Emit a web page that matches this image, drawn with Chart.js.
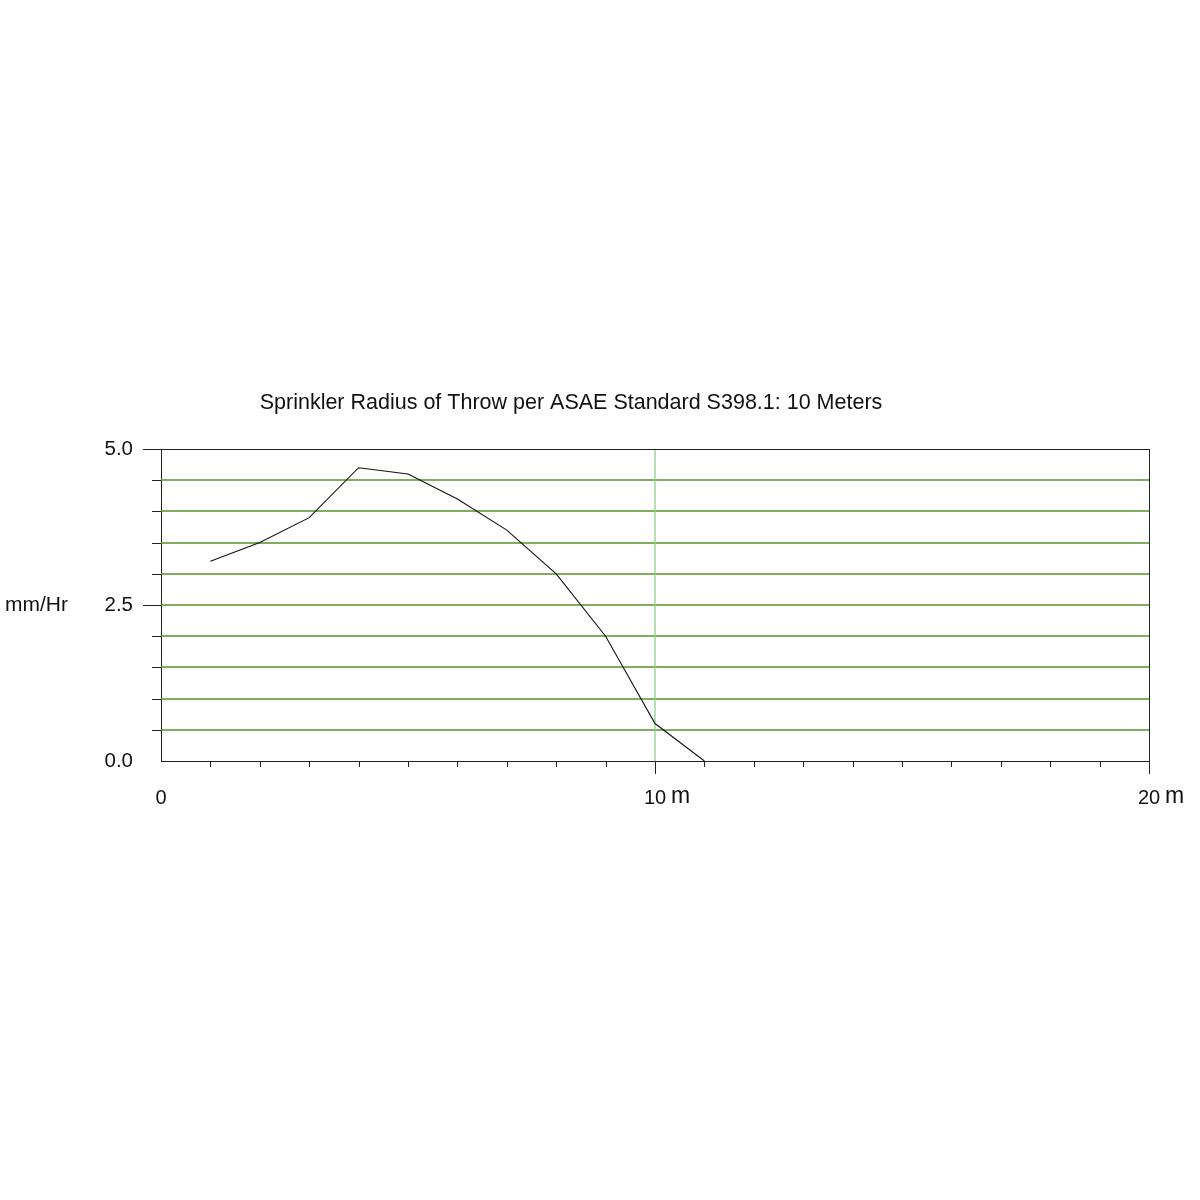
<!DOCTYPE html>
<html>
<head>
<meta charset="utf-8">
<script src="https://cdn.jsdelivr.net/npm/chart.js@4.4.1/dist/chart.umd.min.js"></script>
<style>
  html, body { margin: 0; padding: 0; background: #fff; }
  #wrap { width: 1200px; height: 1200px; }
</style>
</head>
<body>
<div id="wrap"><canvas id="myChart" width="1200" height="1200"></canvas></div>
<script>
// distance from sprinkler (m) and application rate (mm/Hr)
var distance = [1, 2, 3, 4, 5, 6, 7, 8, 9, 10, 11];
var rate = [3.2, 3.5, 3.9, 4.7, 4.6, 4.2, 3.7, 3.0, 2.0, 0.6, 0.0];

var yTickValues = [0, 2.5, 5];
var yTickLabels = ['0.0', '2.5', '5.0'];
var xTickValues = [0, 10, 20];
var xTickLabels = ['0', '10', '20'];
var xUnit = 'm';

var chartTitle = 'Sprinkler Radius of Throw per ASAE Standard S398.1: 10 Meters';
var yTitle = 'mm/Hr';

var points = distance.map(function (d, i) { return { x: d, y: rate[i] }; });

var FONT = 'Arial, "Liberation Sans", sans-serif';

// grid, frame, tick marks and labels drawn off the chart's own scales
var axisDecor = {
  id: 'axisDecor',
  beforeDatasetsDraw: function (chart) {
    var ctx = chart.ctx;
    var a = chart.chartArea;
    var xs = chart.scales.x;
    var ys = chart.scales.y;
    ctx.save();
    ctx.lineWidth = 1.3;
    // horizontal green grid every 0.5
    ctx.strokeStyle = '#55952a';
    ctx.beginPath();
    for (var v = 0.5; v < 4.99; v += 0.5) {
      var py = Math.round(ys.getPixelForValue(v));
      ctx.moveTo(a.left, py);
      ctx.lineTo(a.right, py);
    }
    ctx.stroke();
    // vertical line at 10 m
    ctx.strokeStyle = '#8fcf8a';
    ctx.beginPath();
    var px10 = Math.round(xs.getPixelForValue(10));
    ctx.moveTo(px10, a.top);
    ctx.lineTo(px10, a.bottom);
    ctx.stroke();
    ctx.restore();
  },
  afterDraw: function (chart) {
    var ctx = chart.ctx;
    var a = chart.chartArea;
    var xs = chart.scales.x;
    var ys = chart.scales.y;
    ctx.save();
    ctx.strokeStyle = '#222';
    ctx.lineWidth = 1;

    // top and right frame
    ctx.beginPath();
    ctx.moveTo(a.left, Math.round(a.top) + 0.5);
    ctx.lineTo(a.right, Math.round(a.top) + 0.5);
    ctx.moveTo(Math.round(a.right) + 0.5, a.top);
    ctx.lineTo(Math.round(a.right) + 0.5, a.bottom);
    ctx.stroke();

    // y ticks every 0.5, long at labelled values
    ctx.beginPath();
    for (var v = 0.5; v <= 5.001; v += 0.5) {
      var py = Math.round(ys.getPixelForValue(v)) + 0.5;
      var long = Math.abs(v - 2.5) < 0.01 || Math.abs(v - 5) < 0.01;
      ctx.moveTo(a.left - (long ? 18 : 9), py);
      ctx.lineTo(a.left, py);
    }
    // x ticks every 1, long at labelled values
    for (var d = 1; d <= 20; d++) {
      var px = Math.round(xs.getPixelForValue(d)) + 0.5;
      var longX = d % 10 === 0;
      ctx.moveTo(px, a.bottom);
      ctx.lineTo(px, a.bottom + (longX ? 13 : 6));
    }
    ctx.stroke();

    ctx.fillStyle = '#111';
    ctx.font = '20.5px ' + FONT;
    ctx.textBaseline = 'middle';
    ctx.textAlign = 'right';
    yTickValues.forEach(function (val, i) {
      ctx.fillText(yTickLabels[i], a.left - 28, ys.getPixelForValue(val));
    });

    ctx.textAlign = 'center';
    xTickValues.forEach(function (val, i) {
      var px = xs.getPixelForValue(val);
      ctx.font = '20px ' + FONT;
      ctx.fillText(xTickLabels[i], px, a.bottom + 37);
      if (val > 0) {
        var w = ctx.measureText(xTickLabels[i]).width;
        ctx.font = '23px ' + FONT;
        ctx.textAlign = 'left';
        ctx.fillText(xUnit, px + w / 2 + 5, a.bottom + 36);
        ctx.textAlign = 'center';
      }
    });

    ctx.font = '21px ' + FONT;
    ctx.textAlign = 'left';
    ctx.fillText(yTitle, 5, ys.getPixelForValue(2.5));

    ctx.font = '21.5px ' + FONT;
    ctx.textAlign = 'center';
    ctx.fillText(chartTitle, 571, 403);
    ctx.restore();
  }
};

new Chart(document.getElementById('myChart'), {
  type: 'line',
  data: {
    datasets: [{
      data: points,
      borderColor: '#111',
      borderWidth: 1.1,
      pointRadius: 0,
      tension: 0,
      fill: false
    }]
  },
  options: {
    responsive: false,
    animation: false,
    layout: { padding: { left: 161, right: 51, top: 449, bottom: 439 } },
    plugins: { legend: { display: false }, tooltip: { enabled: false }, title: { display: false } },
    scales: {
      x: {
        type: 'linear',
        min: 0,
        max: 20,
        ticks: { display: false, stepSize: 10 },
        grid: { display: false, drawTicks: false },
        border: { display: true, color: '#222', width: 1 }
      },
      y: {
        min: 0,
        max: 5,
        ticks: { display: false, stepSize: 0.5 },
        grid: { display: false, drawTicks: false },
        border: { display: true, color: '#222', width: 1 }
      }
    }
  },
  plugins: [axisDecor]
});
</script>
</body>
</html>
